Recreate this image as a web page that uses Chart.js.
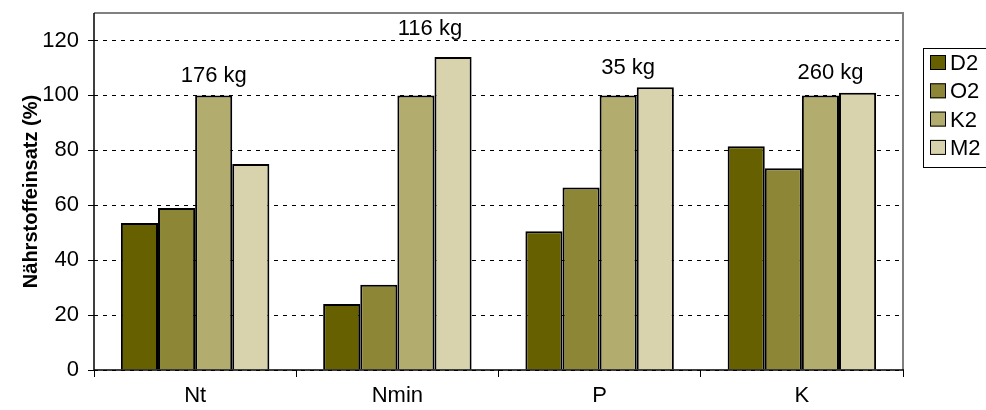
<!DOCTYPE html>
<html><head><meta charset="utf-8">
<script src="https://cdn.jsdelivr.net/npm/chart.js@4/dist/chart.umd.min.js"></script>
<style>html,body{margin:0;padding:0;background:#fff;}</style>
</head><body>
<canvas id="c" width="986" height="410"></canvas>
<script>
const categories = ['Nt', 'Nmin', 'P', 'K'];
const seriesNames = ['D2', 'O2', 'K2', 'M2'];
const D2 = [53.5, 24, 50.5, 81.5];
const O2 = [59, 31, 66.5, 73.5];
const K2 = [100, 100, 100, 100];
const M2 = [75, 114, 103, 101];
const amountLabels = ['176 kg', '116 kg', '35 kg', '260 kg'];
const amountLevel = [107, 124.3, 110, 108];
const yTicks = [0, 20, 40, 60, 80, 100, 120];
const yTitle = 'Nährstoffeinsatz (%)';

const colors = ['#666000', '#8c8636', '#b2ac6e', '#d8d3ad'];
const FONT = 'Liberation Sans, Arial, sans-serif';
Chart.defaults.font.family = FONT;
Chart.defaults.color = '#000';

const seriesValues = [D2, O2, K2, M2];

const extras = {
  id: 'extras',
  afterDatasetsDraw(chart) {
    const ctx = chart.ctx;
    const a = chart.chartArea;
    const y = chart.scales.y;
    ctx.save();
    // plot border (top/right)
    ctx.strokeStyle = '#808080';
    ctx.lineWidth = 2;
    ctx.beginPath();
    ctx.moveTo(a.left, a.top);
    ctx.lineTo(a.right, a.top);
    ctx.lineTo(a.right, a.bottom);
    ctx.stroke();
    // axis lines
    ctx.strokeStyle = '#000';
    ctx.lineWidth = 1.5;
    ctx.beginPath();
    ctx.moveTo(a.left, a.top);
    ctx.lineTo(a.left, a.bottom);
    ctx.lineTo(a.right + 1, a.bottom);
    ctx.stroke();
    // amount labels
    const shift = [0, 14, 10, 10];
    ctx.font = '22px ' + FONT;
    ctx.fillStyle = '#000';
    ctx.textAlign = 'center';
    ctx.textBaseline = 'middle';
    const meta = chart.getDatasetMeta(2);
    amountLabels.forEach((t, i) => {
      const bx = meta.data[i].x + shift[i];
      ctx.fillText(t, bx, y.getPixelForValue(amountLevel[i]));
    });
    // legend
    const lx = 923, ly = 48, lw = 70, lh = 119;
    ctx.fillStyle = '#fff';
    ctx.fillRect(lx, ly, lw, lh);
    ctx.strokeStyle = '#000';
    ctx.lineWidth = 1;
    ctx.strokeRect(lx + 0.5, ly + 0.5, lw, lh);
    ctx.textAlign = 'left';
    chart.data.datasets.forEach((ds, i) => {
      const cy = 63 + i * 28.3;
      ctx.fillStyle = ds.backgroundColor;
      ctx.fillRect(930, cy - 8, 16, 15);
      ctx.strokeStyle = '#000';
      ctx.strokeRect(930.5, cy - 7.5, 15, 14);
      ctx.fillStyle = '#000';
      ctx.fillText(ds.label, 950, cy + 1);
    });
    ctx.restore();
  }
};

new Chart(document.getElementById('c'), {
  type: 'bar',
  data: {
    labels: categories,
    datasets: seriesNames.map((n, i) => ({
      label: n,
      data: seriesValues[i],
      backgroundColor: colors[i],
      borderColor: '#000',
      borderWidth: 2,
      categoryPercentage: 0.734,
      barPercentage: 1.0
    }))
  },
  options: {
    responsive: false,
    animation: false,
    devicePixelRatio: 1,
    layout: { padding: { left: 0, right: 83, top: 13, bottom: 0 } },
    plugins: { legend: { display: false }, tooltip: { enabled: false } },
    scales: {
      x: {
        afterFit(s) { s.height = 40; s.paddingLeft = 0; s.paddingRight = 0; },
        grid: { display: true, drawOnChartArea: false, offset: true, color: '#000', tickLength: 7, lineWidth: 1 },
        border: { display: false },
        ticks: { font: { size: 22 }, color: '#000', padding: 6 }
      },
      y: {
        min: 0, max: 130,
        afterFit(s) { s.width = 94; s.paddingTop = 0; s.paddingBottom = 0; },
        afterBuildTicks(s) { s.ticks = yTicks.map(v => ({ value: v })); },
        grid: { color: '#000', lineWidth: 1, tickLength: 6, tickBorderDash: [], tickColor: '#000' },
        border: { display: false, dash: [4, 5] },
        ticks: { font: { size: 22 }, color: '#000', padding: 9 },
        title: { display: true, text: yTitle, font: { size: 20, weight: 'bold' }, color: '#000', padding: { top: 19, bottom: 0 } }
      }
    }
  },
  plugins: [extras]
});
</script>
</body></html>
